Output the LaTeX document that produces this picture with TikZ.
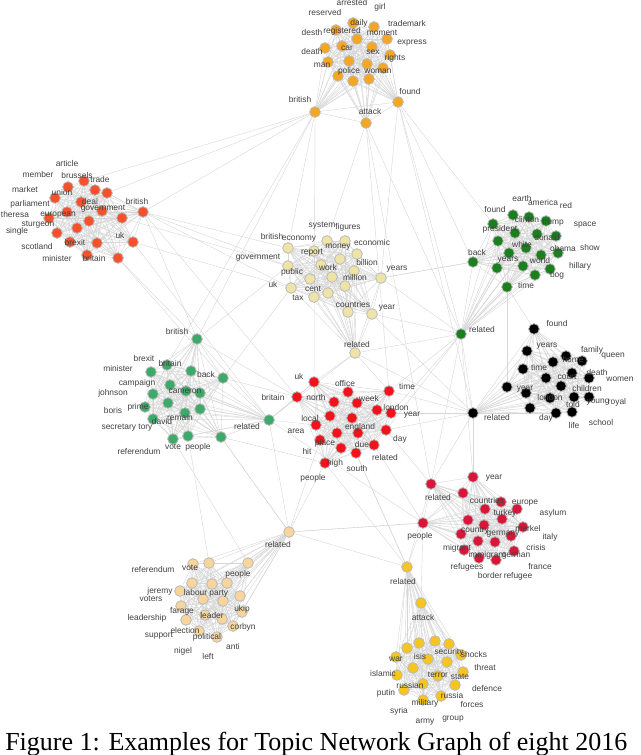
\documentclass[tikz,border=0pt]{standalone}
\usepackage{fontspec}
\setmainfont{Liberation Serif}
\newfontfamily\lblfont{Liberation Sans}
\usetikzlibrary{backgrounds}
\definecolor{cO}{HTML}{F5A623}
\definecolor{cT}{HTML}{F4512C}
\definecolor{cB}{HTML}{EEE4A8}
\definecolor{cG}{HTML}{1B7F1E}
\definecolor{cK}{HTML}{000000}
\definecolor{cM}{HTML}{3DAA6A}
\definecolor{cR}{HTML}{F2121C}
\definecolor{cC}{HTML}{D9163A}
\definecolor{cP}{HTML}{F8D59C}
\definecolor{cY}{HTML}{F7C51E}
\tikzset{
  dot/.style={circle,draw=gray!55,line width=0.6pt,minimum size=8pt,inner sep=0pt},
  edge/.style={draw=gray!32,line width=0.3pt},
  lbl/.style={font=\lblfont\fontsize{6.3}{7}\selectfont,text=black!75,inner sep=0pt},
  caption/.style={font=\fontsize{19.5}{22}\selectfont,anchor=base west,inner sep=0pt}
}
\newcommand\mkcluster[3]{%
  \foreach \x/\y [count=\n] in {#3}{\node[dot,fill=#2] (#1\n) at (\x,\y) {};\xdef\lastN{\n}}
  \begin{pgfonlayer}{background}
  \foreach \i in {1,...,\lastN}{\foreach \j in {1,...,\lastN}{\ifnum\j>\i\relax\draw[edge] (#1\i)--(#1\j);\fi}}
  \end{pgfonlayer}}
\newcommand\mklabels[2]{%
  \foreach \x/\y/\t [count=\n] in {#2}{\node[lbl] (#1L\n) at (\x,\y) {\t};}}
\begin{document}
\begin{tikzpicture}[x=0.75pt,y=-0.75pt]
\clip (0,0) rectangle (640,755);
% clusters
\mkcluster{o}{cO}{353/23,374/27,336/30,357/39,387/39,325/48,342/46,372/47,390/55,328/62,349/61,367/64,383/68,338/76,353/81,369/79,315/112,398/102,366/123}
\mkcluster{t}{cT}{84/181,68/187,95/190,107/193,55/198,81/202,143/212,102/211,67/212,49/218,89/221,122/218,77/228,57/233,133/242,97/243,70/242,118/258,87/255}
\mkcluster{b}{cB}{327/241,345/241,288/248,314/251,357/254,340/259,288/266,321/265,354/271,310/279,332/277,381/278,291/288,345/286,328/293,314/297,348/312,372/314,355/353}
\mkcluster{g}{cG}{513/215,529/217,546/221,493/224,515/233,537/234,556/236,498/241,526/248,509/253,541/255,558/253,473/262,497/268,523/266,550/269,535/275,507/287,461/334}
\mkcluster{k}{cK}{534/329,527/351,566/356,553/362,582/361,523/369,572/373,546/378,589/378,507/387,561/386,526/393,550/398,574/397,589/397,530/408,556/413,572/412,473/413}
\mkcluster{m}{cM}{197/339,151/372,167/365,191/371,223/378,170/385,186/391,200/393,153/394,168/403,145/407,200/409,185/413,153/419,173/439,188/436,221/437,269/420}
\mkcluster{r}{cR}{314/382,348/392,389/391,297/397,334/402,357/403,377/410,391/413,330/416,352/418,316/425,386/430,337/433,358/433,374/445,320/440,341/448,356/453,325/463}
\mkcluster{c}{cC}{473/477,431/484,463/493,501/502,517/509,485/509,502/519,468/520,423/523,484/525,523/527,461/534,511/536,478/541,495/542,464/550,514/551,479/558,496/560}
\mkcluster{p}{cP}{289/532,193/564,209/563,248/563,192/583,212/584,227/583,180/591,203/599,223/601,240/596,181/606,242/612,205/615,222/619,186/620,233/626,199/631,217/637}
\mkcluster{y}{cY}{407/567,421/603,407/648,419/643,435/641,449/644,396/657,428/659,447/662,461/655,413/668,397/675,438/676,463/672,423/684,455/685,404/690,441/696,423/700}
% inter-cluster connectors
\begin{pgfonlayer}{background}
\foreach \a/\b in {o17/t7,o17/t1,o17/t4,o17/b3,o17/m1,o17/m3,o17/r1,o18/g19,o18/g13,o18/k19,o18/g4,o18/b12,o19/b1,o19/r3,o19/g19,o19/c2,
  t7/b7,t7/b13,t7/b3,t7/m1,t7/r4,t15/b13,t15/m18,t18/m1,t18/m5,t12/b7,
  b19/r1,b19/r3,b19/m18,b19/g19,b19/k19,b12/g13,b12/g19,b18/g19,b18/k19,b13/m5,b7/m1,
  g19/r3,g19/r8,g19/k19,g19/c2,g19/r12,g13/b12,g19/c1,
  k19/r3,k19/r8,k19/c2,k19/c1,k19/r12,k1/g18,k10/g18,
  m18/r4,m18/r1,m18/r11,m18/p1,m18/c9,m17/p1,m17/r19,m1/r4,m5/r4,m15/p4,m16/p3,
  r19/p1,r19/y1,r12/c2,r15/c9,r18/y1,
  c9/y1,c9/p1,c2/y1,c9/y2,
  p1/r16,p1/y1,p1/c9,p1/m17,y1/r18}
  {\draw[edge] (\a)--(\b);}
\end{pgfonlayer}
% labels
\mklabels{o}{352/3/arrested,380/7/girl,325/13/reserved,407/24/trademark,359/23/daily,342/31/registered,312/33/desth,382/33/moment,347/48/car,373/52/sex,412/43/express,312/52/death,395/58/rights,322/65/man,349/71/police,378/71/woman,300/100/british,410/92/found,370/112/attack}
\mklabels{t}{67/164/article,38/174/member,77/175/brussels,100/179/trade,25/189/market,62/192/union,137/201/british,30/204/parliament,90/201/deal,58/215/european,103/209/government,15/214/theresa,38/225/sturgeon,17/231/single,120/235/uk,75/242/brexit,37/246/scotland,57/258/minister,94/258/britain}
\mklabels{b}{322/226/system,348/227/figures,272/236/british,299/239/economy,372/242/economic,338/247/money,312/253/report,258/258/government,367/262/billion,328/267/work,292/272/public,397/269/years,355/277/million,273/284/uk,313/289/cent,298/298/tax,353/304/countries,387/308/year,357/344/related}
\mklabels{g}{522/198/earth,543/202/america,566/205/red,495/209/found,527/219/clinton,553/223/trump,585/225/space,500/229/president,547/237/donald,522/244/white,563/248/obama,590/247/show,477/252/back,508/260/years,540/260/world,580/266/hillary,557/275/bog,526/285/time,482/329/related}
\mklabels{k}{557/323/found,547/346/years,592/350/family,573/359/home,613/356/queen,539/367/time,567/377/court,597/372/death,620/379/women,525/389/year,587/388/children,550/397/london,598/402/young,617/402/royal,573/404/told,497/417/related,546/418/day,601/422/school,574/425/life}
\mklabels{m}{177/331/british,144/358/brexit,170/363/britain,118/368/minister,206/374/back,137/383/campaign,185/391/cameron,113/393/johnson,113/410/boris,138/407/prime,180/417/remain,162/421/david,127/428/secretary tory,247/426/related,173/447/vote,139/451/referendum,198/447/people}
\mklabels{r}{299/376/uk,345/383/office,407/386/time,273/397/britain,316/397/north,369/398/week,396/407/london,412/415/year,310/418/local,360/427/england,296/431/area,400/439/day,325/443/place,362/444/due,307/451/hit,385/457/related,335/463/high,357/468/south,313/478/people}
\mklabels{c}{494/478/year,438/497/related,487/500/countries,525/503/europe,505/513/turkey,553/513/asylum,528/528/merkel,475/531/country,503/534/germany,420/536/people,550/537/italy,457/548/migrant,536/547/crisis,487/555/immigrant,516/556/german,467/567/refugees,540/566/france,490/575/border,518/576/refugee}
\mklabels{p}{278/544/related,153/569/referendum,190/568/vote,238/574/people,160/591/jeremy,206/593/labour party,151/599/voters,182/611/farage,242/609/ukip,212/615/leader,147/618/leadership,243/627/corbyn,185/630/election,159/636/support,207/637/political,233/646/anti,183/651/nigel,208/656/left}
\mklabels{y}{403/581/related,423/617/attack,396/659/war,420/656/isis,449/652/security,474/654/shocks,383/673/islamic,485/667/threat,438/675/terror,460/677/state,410/685/russian,487/688/defence,386/693/putin,452/695/russia,425/703/military,472/704/forces,399/711/syria,453/719/group,425/722/army}
\node[caption] (cap) at (5,750) {Figure 1: Examples for Topic Network Graph of eight 2016};
\end{tikzpicture}
\end{document}
